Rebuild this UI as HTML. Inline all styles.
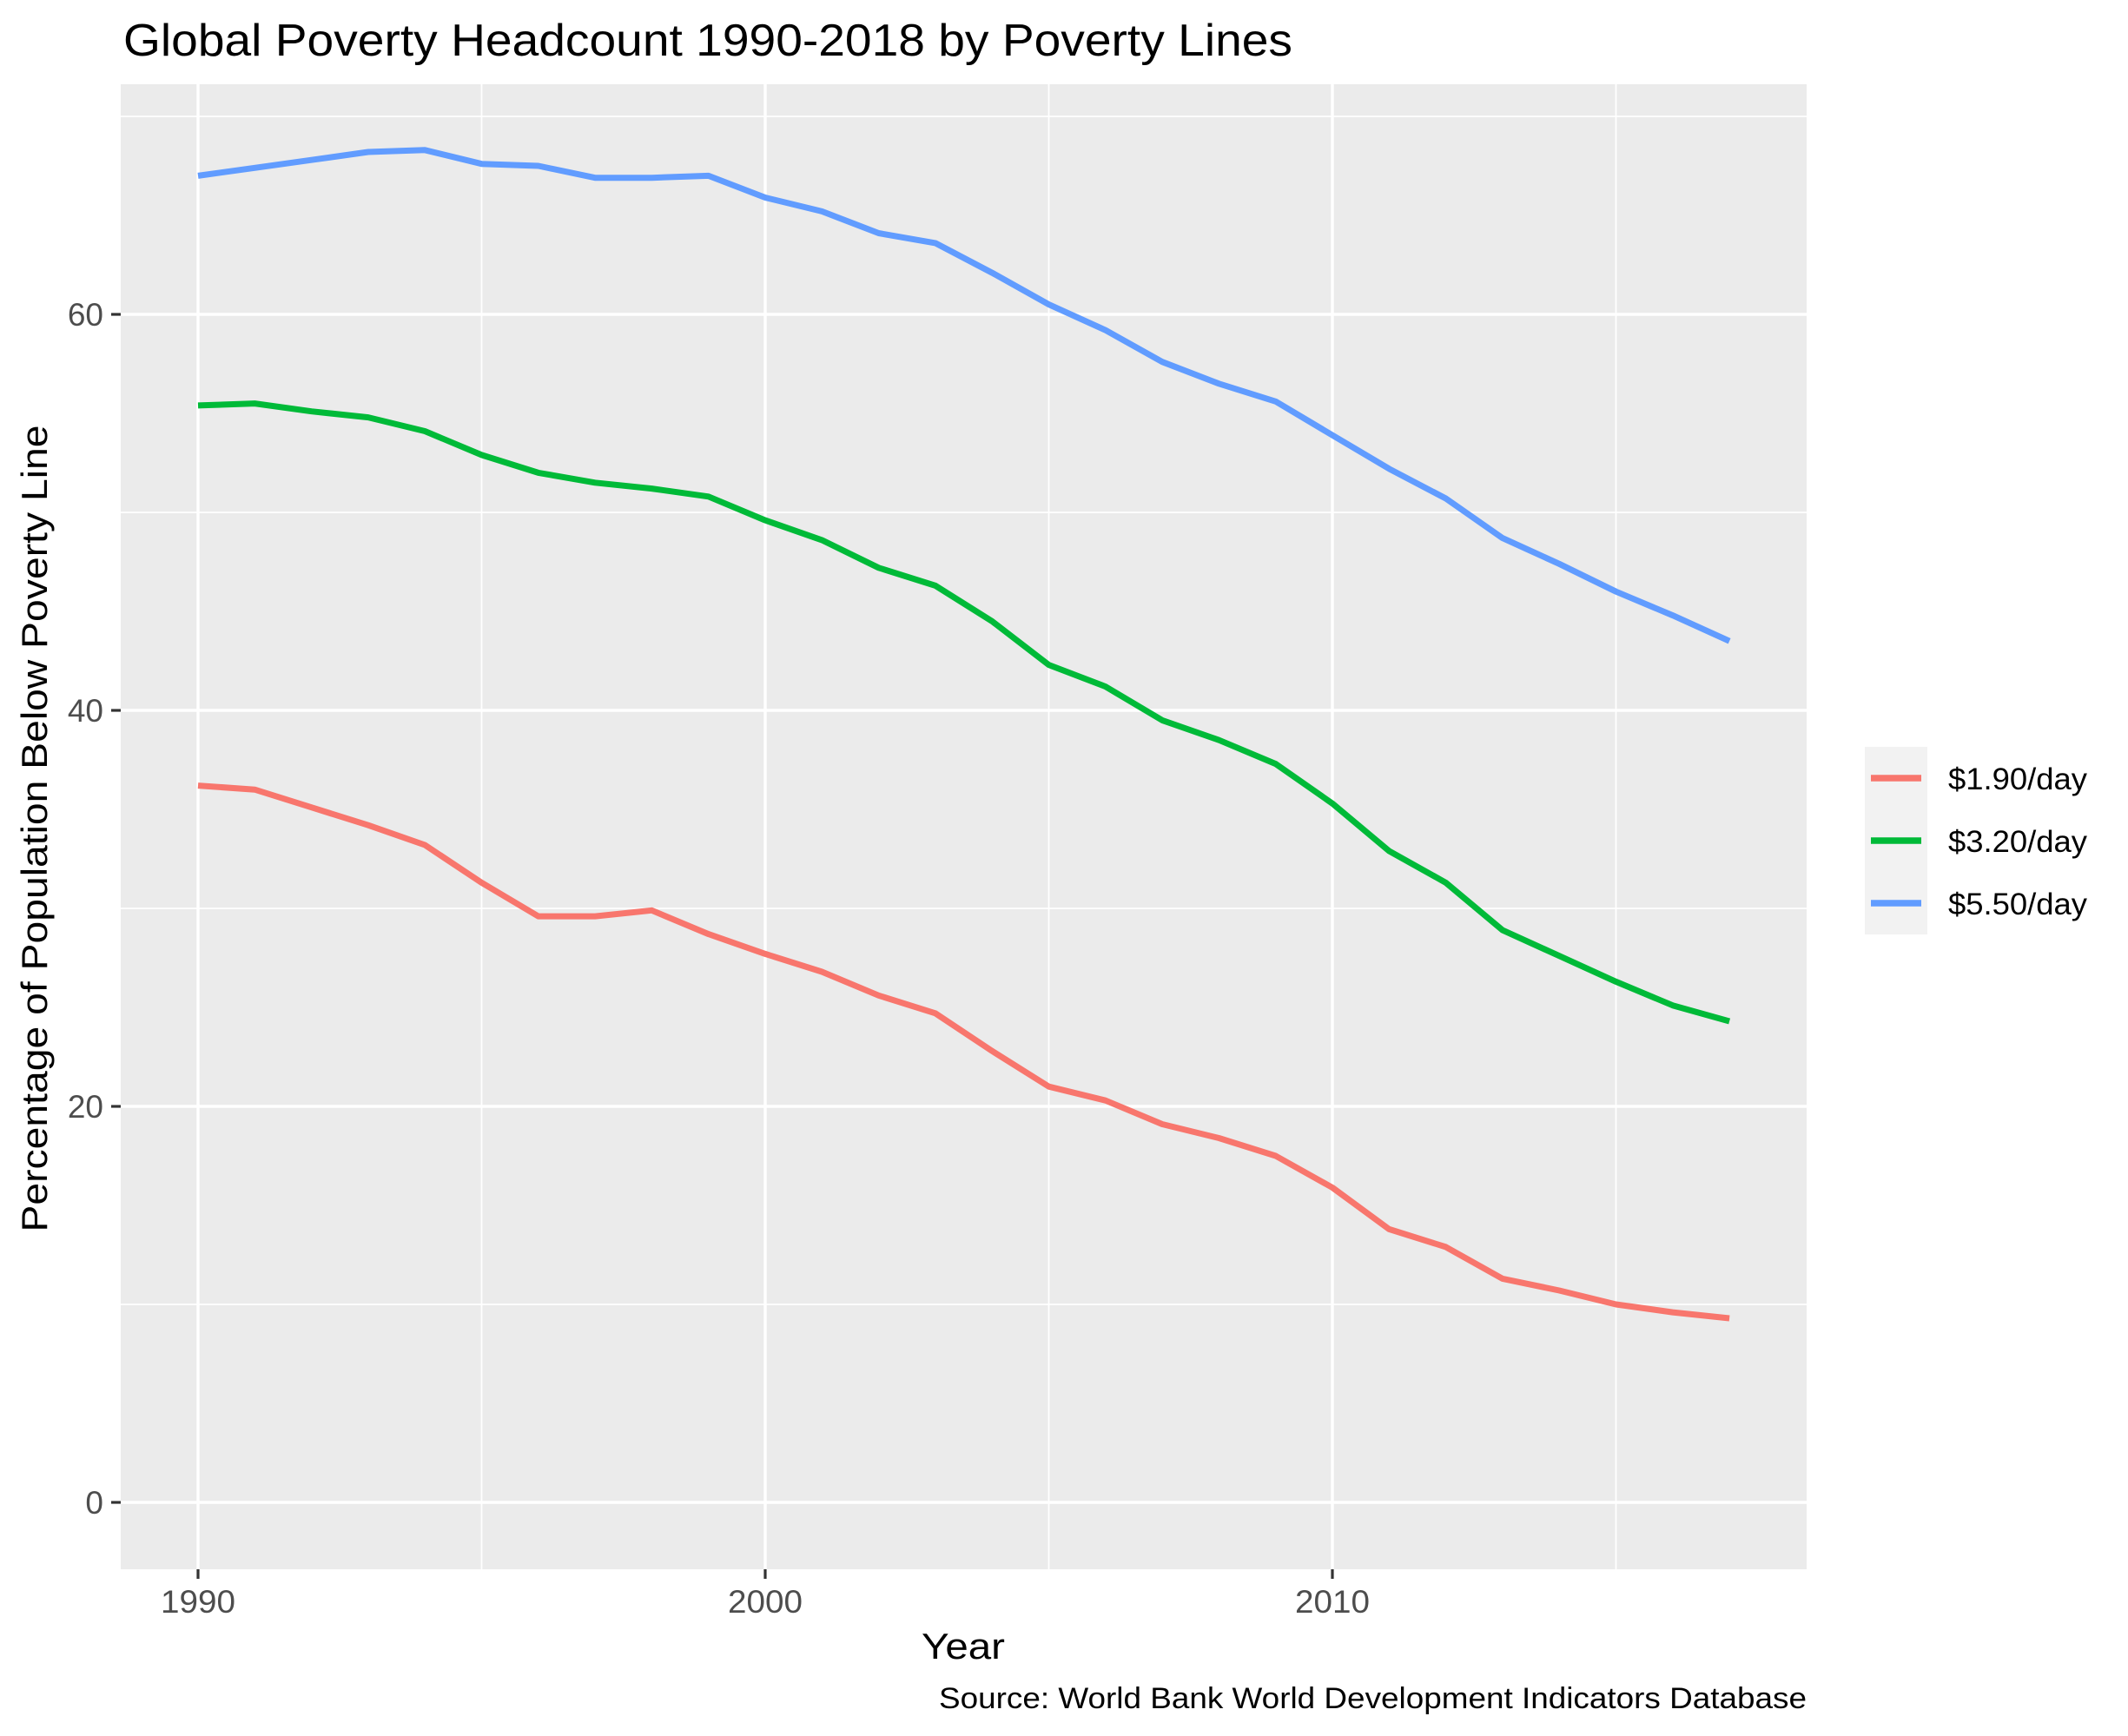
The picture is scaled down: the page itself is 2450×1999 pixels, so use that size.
<!DOCTYPE html>
<html><head><meta charset="utf-8"><style>
html,body{margin:0;padding:0;background:#fff;}
svg{display:block;font-family:"Liberation Sans",Arial,sans-serif;}
</style></head><body>
<svg id="chart" width="2450" height="1999" viewBox="0 0 2450 1999" xmlns="http://www.w3.org/2000/svg">
<rect width="2450" height="1999" fill="#fff"/>
<text x="142" y="64" font-size="52" fill="#000" textLength="1346" lengthAdjust="spacingAndGlyphs">Global Poverty Headcount 1990-2018 by Poverty Lines</text>
<rect x="139" y="97" width="1941" height="1710" fill="#ebebeb"/>
<g id="grid"></g>
<g id="axes"></g>
<g id="series"></g>
<text x="1109" y="1910" font-size="42" text-anchor="middle" fill="#000" textLength="96" lengthAdjust="spacingAndGlyphs">Year</text>
<text transform="translate(54,954) rotate(-90)" font-size="42" text-anchor="middle" fill="#000" textLength="929" lengthAdjust="spacingAndGlyphs">Percentage of Population Below Poverty Line</text>
<text x="2080" y="1967" font-size="34" text-anchor="end" fill="#000" textLength="999" lengthAdjust="spacingAndGlyphs">Source: World Bank World Development Indicators Database</text>
<g>
<rect x="2147" y="860" width="72" height="216" fill="#f2f2f2"/>
<g id="legend-entries"></g>
</g>
</svg>
<script>
const years = [1990,1991,1992,1993,1994,1995,1996,1997,1998,1999,2000,2001,2002,2003,2004,2005,2006,2007,2008,2009,2010,2011,2012,2013,2014,2015,2016,2017];
const pov190 = [36.2,36.0,35.1,34.2,33.2,31.3,29.6,29.6,29.9,28.7,27.7,26.8,25.6,24.7,22.8,21.0,20.3,19.1,18.4,17.5,15.9,13.8,12.9,11.3,10.7,10.0,9.6,9.3];
const pov320 = [55.4,55.5,55.1,54.8,54.1,52.9,52.0,51.5,51.2,50.8,49.6,48.6,47.2,46.3,44.5,42.3,41.2,39.5,38.5,37.3,35.3,32.9,31.3,28.9,27.6,26.3,25.1,24.3];
const pov550 = [67.0,67.4,67.8,68.2,68.3,67.6,67.5,66.9,66.9,67.0,65.9,65.2,64.1,63.6,62.1,60.5,59.2,57.6,56.5,55.6,53.9,52.2,50.7,48.7,47.4,46.0,44.8,43.5];
const seriesLabels = ["$1.90/day","$3.20/day","$5.50/day"];
const seriesColors = ["#f8766d","#00ba38","#619cff"];
const xMajor = [1990,2000,2010];
const xMinor = [1995,2005,2015];
const yMajor = [0,20,40,60];
const yMinor = [10,30,50,70];

const NS="http://www.w3.org/2000/svg";
const PX0=139, PX1=2080, PY0=97, PY1=1807;
const X0=1990, XPX0=228, XSCALE=65.3;
const Y0PX=1730, YSCALE=22.8;
function xs(v){return XPX0+(v-X0)*XSCALE;}
function ys(v){return Y0PX-v*YSCALE;}
function mk(tag,attrs,parent){const e=document.createElementNS(NS,tag);for(const k in attrs)e.setAttribute(k,attrs[k]);parent.appendChild(e);return e;}

const grid=document.getElementById('grid');
yMinor.forEach(v=>{const l=mk('line',{x1:PX0,x2:PX1,y1:ys(v),y2:ys(v),stroke:'#fff','stroke-width':1.8},grid);

});
xMinor.forEach(v=>{const l=mk('line',{x1:xs(v),x2:xs(v),y1:PY0,y2:PY1,stroke:'#fff','stroke-width':1.8},grid);

});
yMajor.forEach(v=>{const l=mk('line',{x1:PX0,x2:PX1,y1:ys(v),y2:ys(v),stroke:'#fff','stroke-width':3.4},grid);

});
xMajor.forEach(v=>{const l=mk('line',{x1:xs(v),x2:xs(v),y1:PY0,y2:PY1,stroke:'#fff','stroke-width':3.4},grid);

});

const axes=document.getElementById('axes');
yMajor.forEach(v=>{
const t=mk('line',{x1:PX0-11,x2:PX0,y1:ys(v),y2:ys(v),stroke:'#333','stroke-width':3.2},axes);


const tx=mk('text',{x:PX0-20,y:ys(v)+13,'font-size':37,'text-anchor':'end',fill:'#4d4d4d'},axes);
tx.textContent=String(v);

});
xMajor.forEach(v=>{
const t=mk('line',{x1:xs(v),x2:xs(v),y1:PY1,y2:PY1+11,stroke:'#333','stroke-width':3.2},axes);


const tx=mk('text',{x:xs(v),y:1857,'font-size':37,'text-anchor':'middle',fill:'#4d4d4d',textLength:86,lengthAdjust:'spacingAndGlyphs'},axes);
tx.textContent=String(v);

});

const sg=document.getElementById('series');
[pov190,pov320,pov550].forEach((vals,i)=>{
const d=vals.map((v,j)=>(j?'L':'M')+xs(years[j]).toFixed(1)+' '+ys(v).toFixed(1)).join(' ');
const p=mk('path',{d:d,fill:'none',stroke:seriesColors[i],'stroke-width':7,'stroke-linejoin':'round'},sg);

});

const lg=document.getElementById('legend-entries');
seriesLabels.forEach((lab,i)=>{
const y=896+i*72;
const k=mk('line',{x1:2154,x2:2212,y1:y,y2:y,stroke:seriesColors[i],'stroke-width':7.5},lg);


const t=mk('text',{x:2243,y:y+13,'font-size':35,fill:'#000',textLength:160,lengthAdjust:'spacingAndGlyphs'},lg);
t.textContent=lab;

});
</script>
</body></html>
